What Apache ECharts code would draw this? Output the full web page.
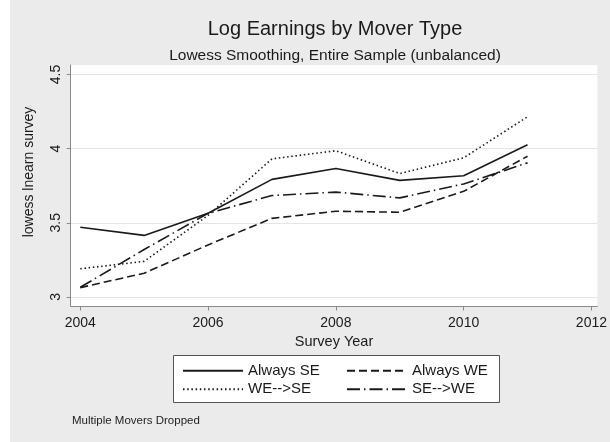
<!DOCTYPE html>
<html>
<head>
<meta charset="utf-8">
<title>Log Earnings by Mover Type</title>
<script src="https://cdn.jsdelivr.net/npm/echarts@6/dist/echarts.min.js"></script>
<style>
  html, body { margin: 0; padding: 0; background: #fff; }
  #chart {
    width: 610px;
    height: 442px;
    background: linear-gradient(to right, #ffffff 10px, #ebebeb 10px);
  }
</style>
</head>
<body>
<div id="chart"></div>
<script>
// survey years and lowess-smoothed log earnings per mover type
const years = [2004, 2005, 2006, 2007, 2008, 2009, 2010, 2011];
const alwaysSE = [3.47, 3.415, 3.564, 3.793, 3.866, 3.786, 3.817, 4.026];
const alwaysWE = [3.063, 3.16, 3.351, 3.53, 3.578, 3.571, 3.712, 3.949];
const weToSe = [3.19, 3.24, 3.55, 3.931, 3.986, 3.832, 3.938, 4.215];
const seToWe = [3.065, 3.32, 3.564, 3.684, 3.707, 3.668, 3.762, 3.904];

const xTicks = [2004, 2006, 2008, 2010, 2012];
const yTicks = [3, 3.5, 4, 4.5];

const font = "'Liberation Sans', Arial, sans-serif";
const ink = '#1a1a1a';

function pairs(vals) {
  return years.map((y, i) => [y, vals[i]]);
}

function line(name, vals, type) {
  return {
    name: name,
    type: 'line',
    data: pairs(vals),
    symbol: 'none',
    lineStyle: { color: ink, width: 1.6, type: type },
    itemStyle: { color: ink }
  };
}

function legendBox(names, left) {
  return {
    data: names,
    orient: 'vertical',
    left: left, top: 362.7, padding: 0,
    itemWidth: 60, itemHeight: 14, itemGap: 2.6,
    itemStyle: { opacity: 0 },
    textStyle: { fontFamily: font, fontSize: 15, lineHeight: 16, color: ink }
  };
}

let chart = echarts.init(document.getElementById('chart'));
let option = {
  animation: false,
  title: [
    {
      text: 'Log Earnings by Mover Type',
      left: 335, top: 19, padding: 0, textAlign: 'center',
      textStyle: { fontFamily: font, fontSize: 20, fontWeight: 'normal', color: ink }
    },
    {
      text: 'Lowess Smoothing, Entire Sample (unbalanced)',
      left: 335, top: 48, padding: 0, textAlign: 'center',
      textStyle: { fontFamily: font, fontSize: 15.5, fontWeight: 'normal', color: ink }
    },
    {
      text: 'Multiple Movers Dropped',
      left: 72, top: 415, padding: 0,
      textStyle: { fontFamily: font, fontSize: 11.5, fontWeight: 'normal', color: '#222' }
    }
  ],
  graphic: [
    {
      type: 'rect',
      shape: { x: 173.5, y: 355.5, width: 326, height: 47 },
      style: { fill: '#fff', stroke: '#555', lineWidth: 1 }
    }
  ],
  legend: [
    legendBox(['Always SE', 'WE-->SE'], 182),
    legendBox(['Always WE', 'SE-->WE'], 346)
  ],
  grid: {
    left: 70.7, right: 10, top: 65, bottom: 136,
    show: true, backgroundColor: '#fff', borderWidth: 0
  },
  xAxis: {
    type: 'value',
    min: 2003.85, max: 2012.093,
    name: 'Survey Year',
    nameLocation: 'middle',
    nameGap: 23,
    nameTextStyle: { fontFamily: font, fontSize: 14.5, color: ink },
    axisLine: { lineStyle: { color: '#8a8a8a' } },
    axisTick: { length: 4.5, lineStyle: { color: '#8a8a8a' }, customValues: xTicks },
    axisLabel: {
      margin: 10, fontFamily: font, fontSize: 14, color: ink, customValues: xTicks,
      formatter: v => String(v)
    },
    splitLine: { show: false }
  },
  yAxis: {
    type: 'value',
    min: 2.939, max: 4.564,
    name: 'lowess lnearn survey',
    nameLocation: 'middle',
    nameGap: 35,
    nameTextStyle: { fontFamily: font, fontSize: 14, color: ink, padding: [0, 0, 0, 27] },
    axisLine: { show: true, lineStyle: { color: '#8a8a8a' } },
    axisTick: { show: true, length: 4, lineStyle: { color: '#8a8a8a' }, customValues: yTicks },
    axisLabel: { rotate: 90, margin: 8, fontFamily: font, fontSize: 14, color: ink, customValues: yTicks },
    splitLine: { show: true, lineStyle: { color: '#e4e4e4', width: 1 } }
  },
  series: [
    line('Always SE', alwaysSE, 'solid'),
    line('Always WE', alwaysWE, [8, 4]),
    line('WE-->SE', weToSe, [1.5, 2.7]),
    line('SE-->WE', seToWe, [13, 4, 1.5, 4])
  ]
};

chart.setOption(option);
</script>
</body>
</html>
